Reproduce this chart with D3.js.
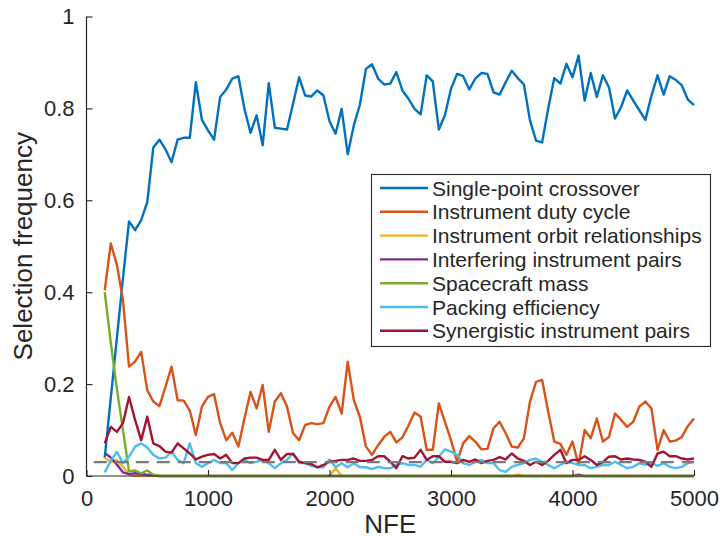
<!DOCTYPE html>
<html>
<head>
<meta charset="utf-8">
<script src="https://cdn.jsdelivr.net/npm/d3@7"></script>
<style>
  html, body { margin: 0; padding: 0; background: #fff; }
  svg { display: block; font-family: "Liberation Sans", Arial, Helvetica, sans-serif; }
</style>
</head>
<body>
<svg id="chart" width="722" height="539"></svg>
<script>
// Sampling points (number of function evaluations)
const nfe = d3.range(150, 5001, 50);

const singlePointCrossover = [
  0.04,0.17,0.30,0.43,0.554,0.535,0.557,0.596,0.715,0.732,
  0.711,0.683,0.732,0.736,0.736,0.857,0.775,0.752,0.732,0.825,
  0.841,0.865,0.870,0.799,0.747,0.785,0.720,0.855,0.758,0.756,
  0.754,0.81,0.868,0.828,0.826,0.839,0.828,0.772,0.745,0.799,
  0.700,0.763,0.808,0.886,0.896,0.865,0.852,0.854,0.879,0.839,
  0.821,0.799,0.787,0.872,0.859,0.754,0.785,0.843,0.875,0.870,
  0.841,0.865,0.877,0.875,0.835,0.830,0.857,0.882,0.866,0.852,
  0.774,0.730,0.726,0.80,0.866,0.854,0.897,0.868,0.915,0.817,
  0.877,0.825,0.872,0.846,0.778,0.803,0.839,0.817,0.796,0.775,
  0.828,0.872,0.830,0.870,0.862,0.850,0.819,0.807
];

const instrumentDutyCycle = [
  0.404,0.506,0.46,0.383,0.238,0.249,0.270,0.187,0.162,0.152,
  0.194,0.238,0.165,0.164,0.143,0.089,0.151,0.172,0.178,0.115,
  0.078,0.094,0.064,0.125,0.183,0.147,0.198,0.096,0.162,0.180,
  0.151,0.093,0.078,0.111,0.115,0.113,0.115,0.151,0.172,0.136,
  0.249,0.165,0.129,0.064,0.046,0.067,0.085,0.096,0.073,0.084,
  0.11,0.138,0.129,0.057,0.057,0.158,0.118,0.078,0.031,0.071,
  0.087,0.075,0.058,0.059,0.104,0.118,0.093,0.064,0.062,0.082,
  0.162,0.205,0.209,0.140,0.075,0.070,0.046,0.075,0.024,0.100,
  0.082,0.125,0.075,0.085,0.136,0.122,0.107,0.118,0.151,0.162,
  0.147,0.057,0.100,0.075,0.077,0.085,0.109,0.125
];

const instrumentOrbitRelationships = [
  0.04,0.03,0.035,0.02,0.003,0,0,0,0,0,
  0,0,0,0,0,0,0,0,0,0,
  0,0,0,0,0,0,0,0,0,0,
  0,0,0,0,0,0,0,0,0.017,0,
  0,0,0,0,0,0,0,0,0,0,
  0,0,0,0,0,0,0,0,0,0,
  0,0,0,0,0,0,0,0,0.003,0,
  0,0,0,0,0,0,0,0,0,0,
  0,0,0,0,0,0,0,0,0,0,
  0,0,0,0,0,0,0,0
];

const interferingInstrumentPairs = [
  0.05,0.04,0.025,0.008,0.004,0.006,0.004,0.003,0.002,0,
  0,0,0,0,0,0,0,0,0,0,
  0,0,0,0,0,0,0,0,0,0,
  0,0,0,0,0,0,0,0,0,0,
  0,0,0,0,0,0,0,0,0,0,
  0,0,0,0,0,0,0,0,0,0,
  0,0,0,0,0,0,0,0,0,0,
  0,0,0,0,0,0,0,0,0.003,0,
  0,0,0,0,0,0,0,0,0,0,
  0,0,0,0,0,0,0,0
];

const spacecraftMass = [
  0.40,0.29,0.19,0.10,0.01,0.012,0.006,0.012,0.003,0,
  0,0,0,0,0,0,0,0,0,0,
  0,0,0,0,0,0,0,0,0,0,
  0,0,0,0,0,0,0,0,0,0,
  0,0,0,0,0,0,0,0,0,0,
  0,0,0,0,0,0,0,0,0,0,
  0,0,0,0,0,0,0,0,0,0,
  0,0,0,0,0,0,0,0,0,0,
  0,0,0,0,0,0,0,0,0,0,
  0,0,0,0,0,0,0,0
];

const packingEfficiency = [
  0.008,0.033,0.053,0.028,0.042,0.064,0.071,0.062,0.046,0.038,
  0.040,0.053,0.035,0.028,0.071,0.028,0.020,0.028,0.035,0.028,
  0.028,0.013,0.028,0.035,0.028,0.031,0.035,0.028,0.017,0.028,
  0.035,0.049,0.028,0.028,0.022,0.019,0.019,0.036,0.019,0.028,
  0.019,0.028,0.019,0.019,0.015,0.020,0.017,0.017,0.024,0.028,
  0.024,0.024,0.020,0.035,0.028,0.042,0.058,0.053,0.046,0.028,
  0.024,0.031,0.035,0.028,0.028,0.013,0.009,0.020,0.024,0.028,
  0.035,0.038,0.031,0.024,0.017,0.024,0.031,0.028,0.024,0.024,
  0.017,0.020,0.024,0.024,0.031,0.024,0.017,0.020,0.028,0.024,
  0.028,0.022,0.028,0.020,0.017,0.020,0.028,0.031
];

const synergisticInstrumentPairs = [
  0.071,0.107,0.096,0.115,0.172,0.122,0.078,0.129,0.071,0.065,
  0.053,0.051,0.071,0.060,0.049,0.036,0.042,0.046,0.048,0.038,
  0.046,0.028,0.028,0.038,0.040,0.040,0.035,0.035,0.057,0.035,
  0.048,0.048,0.031,0.028,0.026,0.019,0.024,0.031,0.033,0.035,
  0.035,0.038,0.033,0.033,0.035,0.043,0.043,0.031,0.017,0.043,
  0.038,0.040,0.057,0.035,0.043,0.043,0.031,0.031,0.028,0.035,
  0.031,0.036,0.028,0.033,0.035,0.041,0.036,0.049,0.038,0.033,
  0.024,0.031,0.024,0.033,0.046,0.057,0.028,0.035,0.035,0.043,
  0.035,0.024,0.030,0.042,0.043,0.036,0.038,0.036,0.035,0.031,
  0.020,0.049,0.053,0.043,0.043,0.038,0.036,0.038
];

const seriesNames = [
  "Single-point crossover",
  "Instrument duty cycle",
  "Instrument orbit relationships",
  "Interfering instrument pairs",
  "Spacecraft mass",
  "Packing efficiency",
  "Synergistic instrument pairs"
];
const seriesValues = [
  singlePointCrossover, instrumentDutyCycle, instrumentOrbitRelationships,
  interferingInstrumentPairs, spacecraftMass, packingEfficiency, synergisticInstrumentPairs
];
const seriesColors = ["#0072BD","#D95319","#EDB120","#7E2F8E","#77AC30","#4DBEEE","#A2142F"];

// Uniform-selection baseline (dashed)
const baselineLevel = 0.03;
const baselineSpan = [60, 5000];

const xTicks = [0, 1000, 2000, 3000, 4000, 5000];
const yTicks = [0, 0.2, 0.4, 0.6, 0.8, 1];
const yTickLabels = ["0", "0.2", "0.4", "0.6", "0.8", "1"];

// ---- layout ----
const svg = d3.select("#chart");
const plot = { left: 86.5, right: 694, top: 16.5, bottom: 476 };
const axisColor = "#262626";

const x = d3.scaleLinear().domain([0, 5000]).range([plot.left, plot.right]);
const y = d3.scaleLinear().domain([0, 1]).range([plot.bottom, plot.top]);

const line = d3.line()
  .x((d, i) => x(nfe[i]))
  .y(d => y(d));

// data lines
const linesG = svg.append("g").attr("fill", "none")
  .attr("stroke-linejoin", "round").attr("stroke-linecap", "butt");

seriesValues.forEach((vals, k) => {
  linesG.append("path")
    .datum(vals)
    .attr("d", line)
    .attr("stroke", seriesColors[k])
    .attr("stroke-width", 2.4);
});

// baseline
linesG.append("line")
  .attr("x1", x(baselineSpan[0])).attr("x2", x(baselineSpan[1]))
  .attr("y1", y(baselineLevel)).attr("y2", y(baselineLevel))
  .attr("stroke", "#7a7a7a")
  .attr("stroke-width", 2.2)
  .attr("stroke-dasharray", "13,8");

// axes (ticks pointing inward)
const xAxis = d3.axisBottom(x).tickValues(xTicks).tickSize(-6).tickPadding(14)
  .tickFormat(d3.format("d"));
const yAxis = d3.axisLeft(y).tickValues(yTicks).tickSize(-6).tickPadding(12)
  .tickFormat((d, i) => yTickLabels[i]);

const gx = svg.append("g").attr("transform", `translate(0,${plot.bottom})`).call(xAxis);
const gy = svg.append("g").attr("transform", `translate(${plot.left},0)`).call(yAxis);

[gx, gy].forEach(g => {
  g.select(".domain").attr("stroke", axisColor).attr("stroke-width", 1.2);
  g.selectAll(".tick line").attr("stroke", axisColor).attr("stroke-width", 1.1);
  g.selectAll(".tick text")
    .attr("fill", axisColor)
    .style("font-size", "22px")
    .style("font-family", '"Liberation Sans", Arial, sans-serif');
});
gx.select(".domain").attr("d", `M${plot.left},0H${plot.right}`);
gy.select(".domain").attr("d", `M0,${plot.bottom}V${plot.top}`);
gx.selectAll(".tick text").attr("dy", "0.71em");

// axis titles
svg.append("text")
  .attr("x", (plot.left + plot.right) / 2)
  .attr("y", 533)
  .attr("text-anchor", "middle")
  .attr("fill", axisColor)
  .style("font-size", "26px")
  .text("NFE");

svg.append("text")
  .attr("transform", `translate(32,${(plot.top + plot.bottom) / 2}) rotate(-90)`)
  .attr("text-anchor", "middle")
  .attr("fill", axisColor)
  .style("font-size", "26px")
  .text("Selection frequency");

// legend
const legend = svg.append("g");
const lg = { x: 371.5, y: 174.5, w: 339, h: 172, row0: 188, rowStep: 23.8 };
legend.append("rect")
  .attr("x", lg.x).attr("y", lg.y).attr("width", lg.w).attr("height", lg.h)
  .attr("fill", "#fff").attr("stroke", axisColor).attr("stroke-width", 1.1);

seriesNames.forEach((name, k) => {
  const cy = lg.row0 + k * lg.rowStep;
  legend.append("line")
    .attr("x1", 380).attr("x2", 428).attr("y1", cy).attr("y2", cy)
    .attr("stroke", seriesColors[k]).attr("stroke-width", 2.4);
  legend.append("text")
    .attr("x", 432).attr("y", cy)
    .attr("dy", "0.36em")
    .attr("fill", axisColor)
    .style("font-size", "21px")
    .text(name);
});
</script>
</body>
</html>
